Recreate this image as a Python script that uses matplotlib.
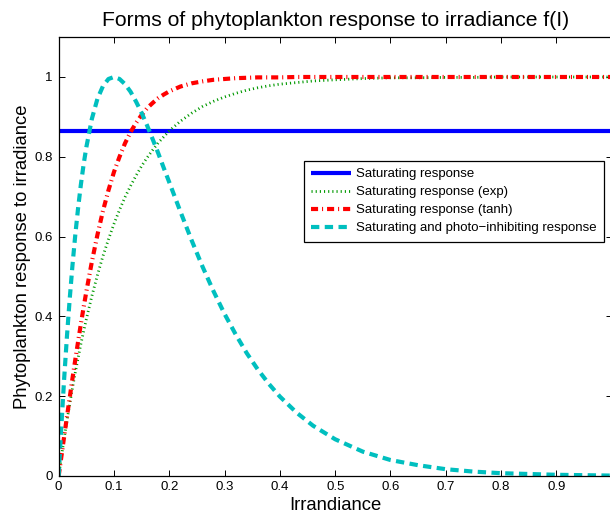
import matplotlib
matplotlib.use("Agg")
import matplotlib.pyplot as plt

plt.rcParams['font.family'] = ['Liberation Sans', 'DejaVu Sans']

# ---- data ----
irradiance = [0, 0.005, 0.01, 0.015, 0.02, 0.025, 0.03, 0.035, 0.04, 0.045, 0.05,
              0.06, 0.07, 0.08, 0.09, 0.10,
              0.11, 0.12, 0.13, 0.14, 0.15, 0.16, 0.17, 0.18, 0.19, 0.20,
              0.22, 0.24, 0.26, 0.28, 0.30,
              0.32, 0.34, 0.36, 0.38, 0.40,
              0.43, 0.46, 0.50,
              0.55, 0.60, 0.65, 0.70, 0.75, 0.80, 0.85, 0.90, 0.95, 1.00]

saturating_level = 0.865

sat_exp = [0, 0.049, 0.095, 0.139, 0.181, 0.221, 0.259, 0.295, 0.330, 0.362, 0.393,
           0.451, 0.503, 0.551, 0.593, 0.632,
           0.667, 0.699, 0.727, 0.753, 0.777, 0.798, 0.817, 0.835, 0.850, 0.865,
           0.889, 0.909, 0.926, 0.939, 0.950,
           0.959, 0.967, 0.973, 0.978, 0.982,
           0.986, 0.990, 0.993,
           0.996, 0.998, 0.998, 0.999, 0.999, 1.0, 1.0, 1.0, 1.0, 1.0]

sat_tanh = [0, 0.050, 0.100, 0.149, 0.197, 0.245, 0.291, 0.336, 0.380, 0.422, 0.462,
            0.537, 0.604, 0.664, 0.716, 0.762,
            0.800, 0.834, 0.862, 0.885, 0.905, 0.922, 0.935, 0.947, 0.956, 0.964,
            0.976, 0.984, 0.989, 0.993, 0.995,
            0.997, 0.998, 0.999, 0.999, 0.999,
            1.0, 1.0, 1.0,
            1.0, 1.0, 1.0, 1.0, 1.0, 1.0, 1.0, 1.0, 1.0, 1.0]

photo_inhib = [0, 0.129, 0.246, 0.351, 0.445, 0.529, 0.604, 0.670, 0.729, 0.780, 0.824,
               0.895, 0.945, 0.977, 0.995, 1.0,
               0.995, 0.982, 0.963, 0.938, 0.910, 0.878, 0.844, 0.809, 0.772, 0.736,
               0.663, 0.592, 0.525, 0.463, 0.406,
               0.355, 0.308, 0.267, 0.231, 0.199,
               0.159, 0.126, 0.092,
               0.061, 0.040, 0.027, 0.017, 0.011, 0.007, 0.005, 0.003, 0.002, 0.001]

labels = ["Saturating response",
          "Saturating response (exp)",
          "Saturating response (tanh)",
          "Saturating and photo\u2212inhibiting response"]

xtick_vals = [0, 0.1, 0.2, 0.3, 0.4, 0.5, 0.6, 0.7, 0.8, 0.9]
xtick_labels = ["0", "0.1", "0.2", "0.3", "0.4", "0.5", "0.6", "0.7", "0.8", "0.9"]
ytick_vals = [0, 0.2, 0.4, 0.6, 0.8, 1.0]
ytick_labels = ["0", "0.2", "0.4", "0.6", "0.8", "1"]

# ---- figure ----
fig = plt.figure(figsize=(6.10, 5.18), dpi=100)
ax = fig.add_axes([0.0962, 0.0811, 0.9066, 0.8473])

ax.plot([irradiance[0], irradiance[-1]], [saturating_level, saturating_level],
        color=(0, 0, 1), lw=3, solid_capstyle='butt', label=labels[0])
ax.plot(irradiance, sat_exp, color=(0, 0.6, 0), lw=2,
        linestyle=(0, (0.4, 1.1)), dash_capstyle='butt', label=labels[1])
ax.plot(irradiance, sat_tanh, color=(1, 0, 0), lw=3,
        linestyle=(0, (1.7, 0.95, 0.25, 0.95)), dash_capstyle='butt', label=labels[2])
ax.plot(irradiance, photo_inhib, color=(0, 0.75, 0.75), lw=3,
        linestyle=(0, (2.0, 1.3)), dash_capstyle='butt', label=labels[3])

ax.set_xlim(0, 1)
ax.set_ylim(0, 1.1)
ax.set_xticks(xtick_vals)
ax.set_xticklabels(xtick_labels)
ax.set_yticks(ytick_vals)
ax.set_yticklabels(ytick_labels)
ax.tick_params(axis='both', direction='in', length=4.3, width=0.7,
               top=True, right=True, labelsize=9.5, colors='black')
ax.tick_params(axis='x', pad=3.5)
ax.tick_params(axis='y', pad=4.5)
for s in ax.spines.values():
    s.set_linewidth(0.9)

ax.set_title("Forms of phytoplankton response to irradiance f(I)", fontsize=15.2, pad=8)
ax.set_xlabel("Irrandiance", fontsize=13.3, labelpad=3)
ax.set_ylabel("Phytoplankton response to irradiance", fontsize=13.3, labelpad=2)

leg = ax.legend(loc='upper left', bbox_to_anchor=(0.4436, 0.7184),
                bbox_transform=ax.transAxes, borderaxespad=0, fontsize=9.5,
                handlelength=3.0, handletextpad=0.4, labelspacing=0.44,
                borderpad=0.56, fancybox=False, framealpha=1, edgecolor='black')
leg.get_frame().set_linewidth(0.9)

fig.savefig("out.png", dpi=100)
